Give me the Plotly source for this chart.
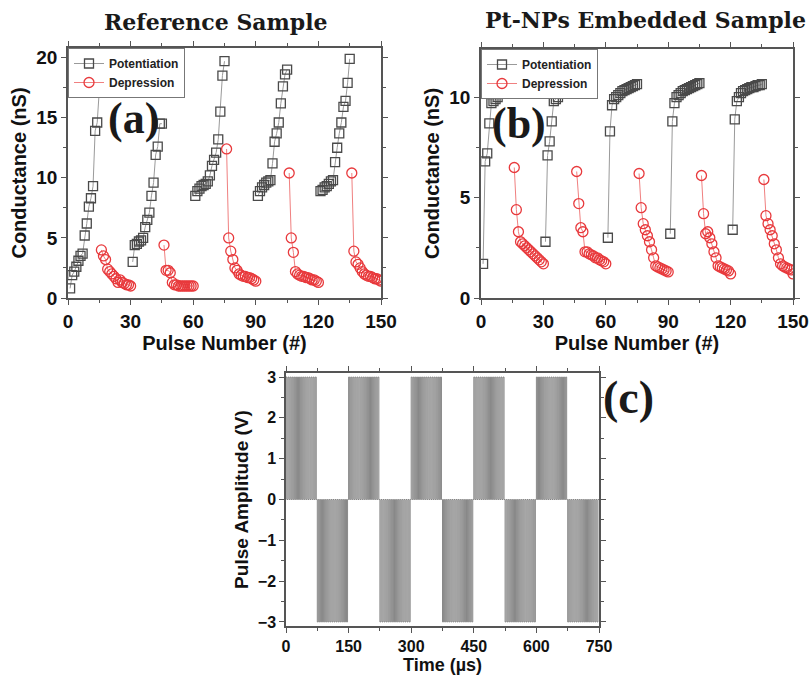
import plotly.graph_objects as go

# ---------------- data ----------------
pulse_a_pot = list(range(1, 16)), list(range(31, 46)), list(range(61, 76)), list(range(91, 106)), list(range(121, 136))
pulse_a_dep = list(range(16, 31)), list(range(46, 61)), list(range(76, 91)), list(range(106, 121)), list(range(136, 151))

ref_pot = [
    [0.8, 1.9, 2.2, 2.6, 3.1, 3.5, 3.7, 5.2, 6.2, 7.6, 8.3, 9.3, 13.9, 14.6, 17.3],
    [3.0, 4.4, 4.5, 4.7, 4.8, 5.0, 5.9, 6.5, 7.1, 8.5, 9.6, 11.9, 12.6, 14.5, 14.5],
    [8.5, 8.9, 9.1, 9.3, 9.4, 9.5, 9.7, 10.2, 11.0, 11.5, 12.1, 13.2, 15.5, 18.5, 19.7],
    [8.5, 8.9, 9.2, 9.4, 9.6, 9.7, 9.8, 11.2, 13.0, 13.7, 14.6, 16.2, 17.6, 18.6, 19.0],
    [8.9, 9.0, 9.2, 9.3, 9.5, 9.7, 9.8, 11.3, 12.5, 13.7, 14.6, 15.9, 16.4, 17.9, 19.9],
]
ref_dep = [
    [4.0, 3.5, 3.2, 2.4, 2.2, 2.0, 1.8, 1.6, 1.3, 1.5, 1.3, 1.2, 1.1, 1.1, 1.0],
    [4.4, 2.3, 2.3, 2.1, 1.3, 1.1, 1.1, 1.0, 1.0, 1.0, 1.0, 1.0, 1.0, 1.0, 1.0],
    [12.4, 5.0, 3.9, 3.2, 2.5, 2.3, 2.0, 1.9, 1.8, 1.8, 1.7, 1.7, 1.6, 1.5, 1.4],
    [10.4, 5.0, 3.8, 2.2, 2.0, 1.9, 1.8, 1.8, 1.7, 1.7, 1.6, 1.5, 1.5, 1.4, 1.3],
    [10.4, 3.9, 3.0, 2.8, 2.5, 2.2, 2.0, 1.9, 1.8, 1.8, 1.7, 1.6, 1.6, 1.5, 1.4],
]

pt_pot = [
    [1.7, 6.8, 7.2, 8.7, 9.7, 9.8, 9.9, 10.0, 10.2, 10.3, 10.35, 10.4, 10.45, 10.5, 10.55],
    [2.8, 7.1, 7.8, 8.8, 9.8, 9.9, 10.0, 10.2, 10.3, 10.4, 10.45, 10.5, 10.55, 10.6, 10.6],
    [3.0, 8.3, 9.6, 9.9, 10.0, 10.1, 10.2, 10.3, 10.35, 10.4, 10.45, 10.5, 10.55, 10.6, 10.65],
    [3.2, 8.8, 9.7, 10.0, 10.1, 10.2, 10.3, 10.35, 10.4, 10.45, 10.5, 10.55, 10.6, 10.65, 10.7],
    [3.4, 8.9, 9.8, 10.0, 10.2, 10.3, 10.35, 10.4, 10.45, 10.5, 10.5, 10.55, 10.6, 10.6, 10.65],
]
pt_dep = [
    [6.5, 4.4, 3.3, 2.8, 2.7, 2.6, 2.5, 2.4, 2.3, 2.2, 2.1, 2.0, 1.9, 1.8, 1.7],
    [6.3, 4.7, 3.5, 3.3, 2.3, 2.3, 2.2, 2.15, 2.1, 2.0, 2.0, 1.9, 1.85, 1.8, 1.7],
    [6.2, 4.5, 3.7, 3.4, 3.1, 2.8, 2.4, 2.0, 1.6, 1.55, 1.5, 1.45, 1.4, 1.35, 1.3],
    [6.1, 4.2, 3.2, 3.3, 3.0, 2.7, 2.3, 2.0, 1.6, 1.55, 1.5, 1.45, 1.4, 1.35, 1.2],
    [5.9, 4.1, 3.7, 3.4, 3.1, 2.7, 2.4, 2.0, 1.7, 1.6, 1.55, 1.5, 1.45, 1.4, 1.2],
]

# pulse scheme for (c)
block_amplitudes = [3, -3, 3, -3, 3, -3, 3, -3, 3, -3]
block_duration_us = 75
pulses_per_block = 15
pulse_high_fraction = 0.5

# ---------------- helpers ----------------
def join(xs_list, ys_list):
    X, Y = [], []
    for xs, ys in zip(xs_list, ys_list):
        X += list(xs) + [None]
        Y += list(ys) + [None]
    return X, Y

def pulse_wave():
    X, Y = [], []
    period = block_duration_us / pulses_per_block
    for b, amp in enumerate(block_amplitudes):
        t0 = b * block_duration_us
        for k in range(pulses_per_block):
            s = t0 + k * period
            e = s + period * pulse_high_fraction
            X += [s, s, e, e]
            Y += [0, amp, amp, 0]
    X.append(len(block_amplitudes) * block_duration_us)
    Y.append(0)
    return X, Y

GREY_LINE = "#9a9a9a"
GREY_MK = "#4a4a4a"
RED_LINE = "#f08080"
RED_MK = "#e8393c"
FONT = "Liberation Sans"
SERIF = "Liberation Serif"

fig = go.Figure()

def add_panel(pot, dep, xa, ya, legend):
    x, y = join(pulse_a_pot, pot)
    fig.add_trace(go.Scatter(x=x, y=y, mode="lines+markers", name="Potentiation",
                             line=dict(color=GREY_LINE, width=1),
                             marker=dict(symbol="square-open", size=9, color=GREY_MK, line=dict(width=1.3)),
                             xaxis=xa, yaxis=ya, legend=legend))
    x, y = join(pulse_a_dep, dep)
    fig.add_trace(go.Scatter(x=x, y=y, mode="lines+markers", name="Depression",
                             line=dict(color=RED_LINE, width=1),
                             marker=dict(symbol="circle-open", size=10, color=RED_MK, line=dict(width=1.3)),
                             xaxis=xa, yaxis=ya, legend=legend))

add_panel(ref_pot, ref_dep, "x", "y", "legend")
add_panel(pt_pot, pt_dep, "x2", "y2", "legend2")

px_, py_ = pulse_wave()
fig.add_trace(go.Scatter(x=px_, y=py_, mode="lines", line=dict(color="#7a7a7a", width=0.9),
                         xaxis="x3", yaxis="y3", showlegend=False))

W, H = 810, 675
def dx(a, b): return [a / W, b / W]
def dy(top, bot): return [1 - bot / H, 1 - top / H]

tickfont = dict(family=FONT, size=19, color="#111", weight="bold")
titlefont = dict(family=FONT, size=20, color="#111", weight="bold")

def ax(domain, rng, dtick, minor, title, anchor, tf=tickfont, ttf=titlefont, standoff=4):
    return dict(domain=domain, range=rng, dtick=dtick, tick0=0, anchor=anchor, automargin=False,
                showgrid=False, zeroline=False, showline=True, linecolor="#555", linewidth=1.5,
                mirror="allticks", ticks="outside", ticklen=5, tickwidth=1.3, tickcolor="#555",
                minor=dict(dtick=minor, ticks="outside", ticklen=3, tickwidth=1, tickcolor="#555"),
                tickfont=tf, title=dict(text=title, font=ttf, standoff=standoff))

legfont = dict(family=FONT, size=12, color="#222", weight="bold")
cfont_tick = dict(family=FONT, size=16, color="#111", weight="bold")
cfont_title = dict(family=FONT, size=18, color="#111", weight="bold")

fig.update_layout(
    template="none",
    width=W, height=H, margin=dict(l=0, r=0, t=0, b=0, autoexpand=False),
    paper_bgcolor="white", plot_bgcolor="white",
    xaxis=ax(dx(68, 381), [0, 150], 30, 15, "Pulse Number (#)", "y", standoff=2),
    yaxis=ax(dy(48, 298), [0, 20.8], 5, 2.5, "Conductance (nS)", "x"),
    xaxis2=ax(dx(481, 793), [0, 150], 30, 15, "Pulse Number (#)", "y2", standoff=2),
    yaxis2=ax(dy(49, 298), [0, 12.4], 5, 2.5, "Conductance (nS)", "x2"),
    xaxis3=ax(dx(286, 599), [0, 750], 150, 75, "Time (µs)", "y3",
              tf=cfont_tick, ttf=cfont_title, standoff=3),
    yaxis3=ax(dy(373, 626), [-3.1, 3.1], 1, 0.5, "Pulse Amplitude (V)", "x3",
              tf=cfont_tick, ttf=dict(family=FONT, size=19, color="#111", weight="bold")),
    legend=dict(x=68 / W, y=1 - 48 / H, xanchor="left", yanchor="top",
                bordercolor="#777", borderwidth=1, bgcolor="white",
                font=legfont, tracegroupgap=0, itemwidth=30),
    legend2=dict(x=481 / W, y=1 - 49 / H, xanchor="left", yanchor="top",
                 bordercolor="#777", borderwidth=1, bgcolor="white",
                 font=legfont, tracegroupgap=0, itemwidth=30),
)

ann = [
    dict(text="Reference Sample", x=216 / W, y=1 - 22 / H, size=22, fam="DejaVu Serif"),
    dict(text="Pt-NPs Embedded Sample", x=645 / W, y=1 - 20 / H, size=22, fam="DejaVu Serif"),
    dict(text="(a)", x=133 / W, y=1 - 119 / H, size=44, fam=SERIF),
    dict(text="(b)", x=519 / W, y=1 - 123 / H, size=44, fam=SERIF),
    dict(text="(c)", x=628 / W, y=1 - 397 / H, size=46, fam=SERIF),
]
for a in ann:
    fig.add_annotation(text=a["text"], x=a["x"], y=a["y"], xref="paper", yref="paper",
                       xanchor="center", yanchor="middle", showarrow=False,
                       font=dict(family=a["fam"], size=a["size"], color="#1a1a1a", weight="bold"))

fig.write_html("out.html")
